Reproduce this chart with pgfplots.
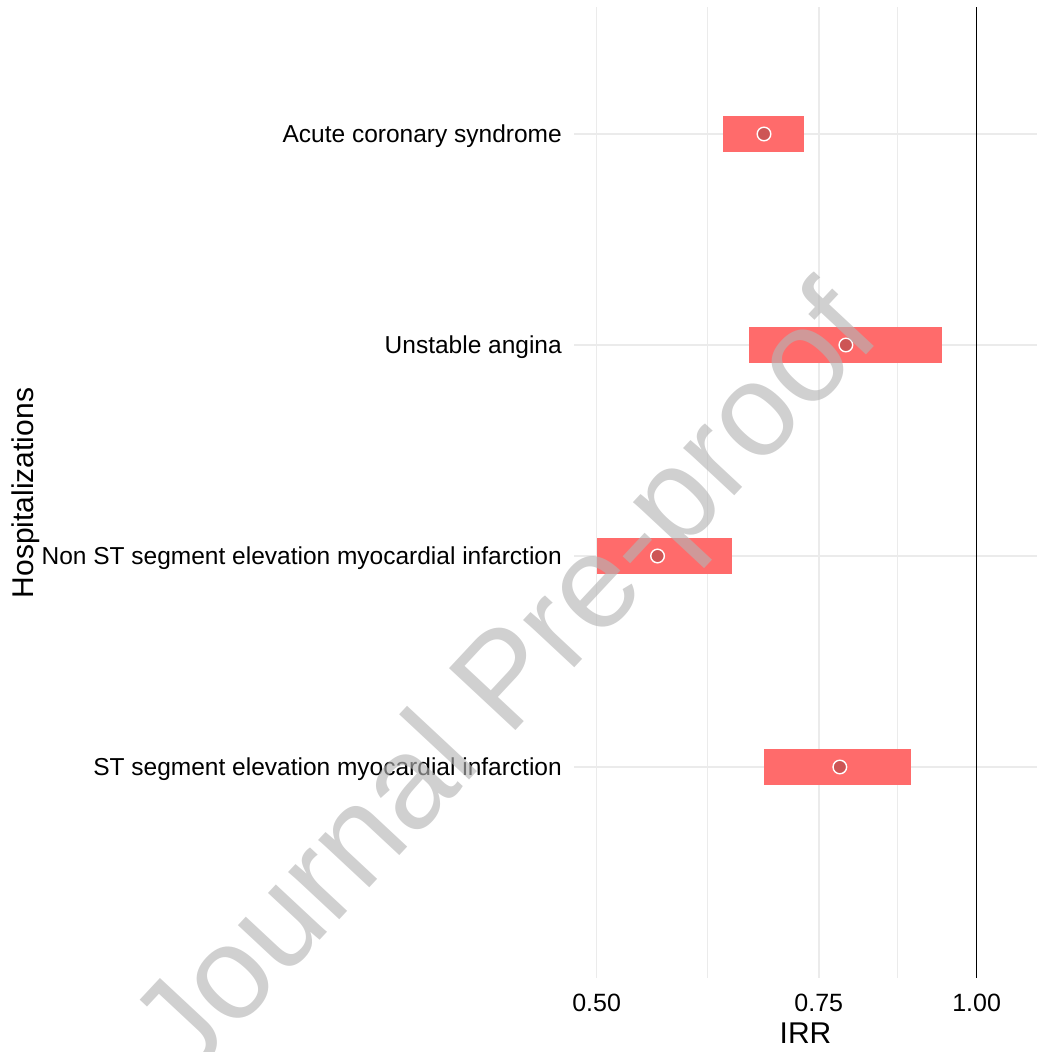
\documentclass[border=0pt]{standalone}
\usepackage{pgfplots}
\pgfplotsset{compat=1.18}
\usepackage{fontspec}
\setmainfont{Liberation Sans}
\definecolor{barred}{HTML}{FF6B6B}
\definecolor{ptred}{HTML}{CD5555}
\definecolor{gridgray}{HTML}{EBEBEB}
\definecolor{wmgray}{RGB}{180,180,180}
\begin{document}
\begin{tikzpicture}
\useasboundingbox (0,0) rectangle (1037pt,1052pt);
\begin{axis}[
 at={(574pt,74pt)}, anchor=south west,
 scale only axis, width=463pt, height=971pt,
 xmode=log, xmin=0.4798, xmax=1.1165, ymin=0, ymax=4.602,
 xtick={0.5,0.75,1}, xticklabels={0.50,0.75,1.00},
 minor xtick={0.6124,0.8660},
 ytick={1,2,3,4},
 yticklabels={ST segment elevation myocardial infarction, Non ST segment elevation myocardial infarction, Unstable angina, Acute coronary syndrome},
 xmajorgrids, xminorgrids, ymajorgrids,
 major grid style={draw=gridgray, line width=1.7pt},
 minor grid style={draw=gridgray, line width=1.3pt},
 axis line style={draw=none},
 major tick length=0pt, minor tick length=0pt,
 tick style={draw=none},
 xticklabel style={font=\fontsize{25}{30}\selectfont, inner sep=0pt, anchor=north, yshift=-16pt},
 yticklabel style={font=\fontsize{24.5}{30}\selectfont, inner sep=0pt, anchor=east, xshift=-12pt, yshift=-2pt},
 clip=false,
]
% x = 1 reference line
\addplot[black, line width=1.6pt] coordinates {(1,0) (1,4.602)};
% interval bars
\addplot[fill=barred, draw=none] coordinates {(0.6300,3.917) (0.7303,3.917) (0.7303,4.083) (0.6300,4.083)} --cycle;
\addplot[fill=barred, draw=none] coordinates {(0.6602,2.917) (0.9383,2.917) (0.9383,3.083) (0.6602,3.083)} --cycle;
\addplot[fill=barred, draw=none] coordinates {(0.5000,1.917) (0.6396,1.917) (0.6396,2.083) (0.5000,2.083)} --cycle;
\addplot[fill=barred, draw=none] coordinates {(0.6789,0.917) (0.8877,0.917) (0.8877,1.083) (0.6789,1.083)} --cycle;
% point estimates
\addplot[only marks, mark=*, mark size=6.8pt, mark options={fill=ptred, draw=white, line width=1.4pt}]
 coordinates {(0.6786,4) (0.7880,3) (0.5588,2) (0.7794,1)};
\end{axis}
\node[rotate=90, anchor=north, inner sep=0pt, font=\fontsize{30}{36}\selectfont] at (12pt,559pt) {Hospitalizations};
\node[anchor=north, inner sep=0pt, font=\fontsize{30}{36}\selectfont] at (805.5pt,29pt) {IRR};
\node[rotate=47, anchor=base west, inner sep=0pt, text=wmgray, opacity=0.63, font=\fontsize{132}{150}\selectfont] at (188pt,-30pt) {Journal Pre-proof};
\end{tikzpicture}
\end{document}
